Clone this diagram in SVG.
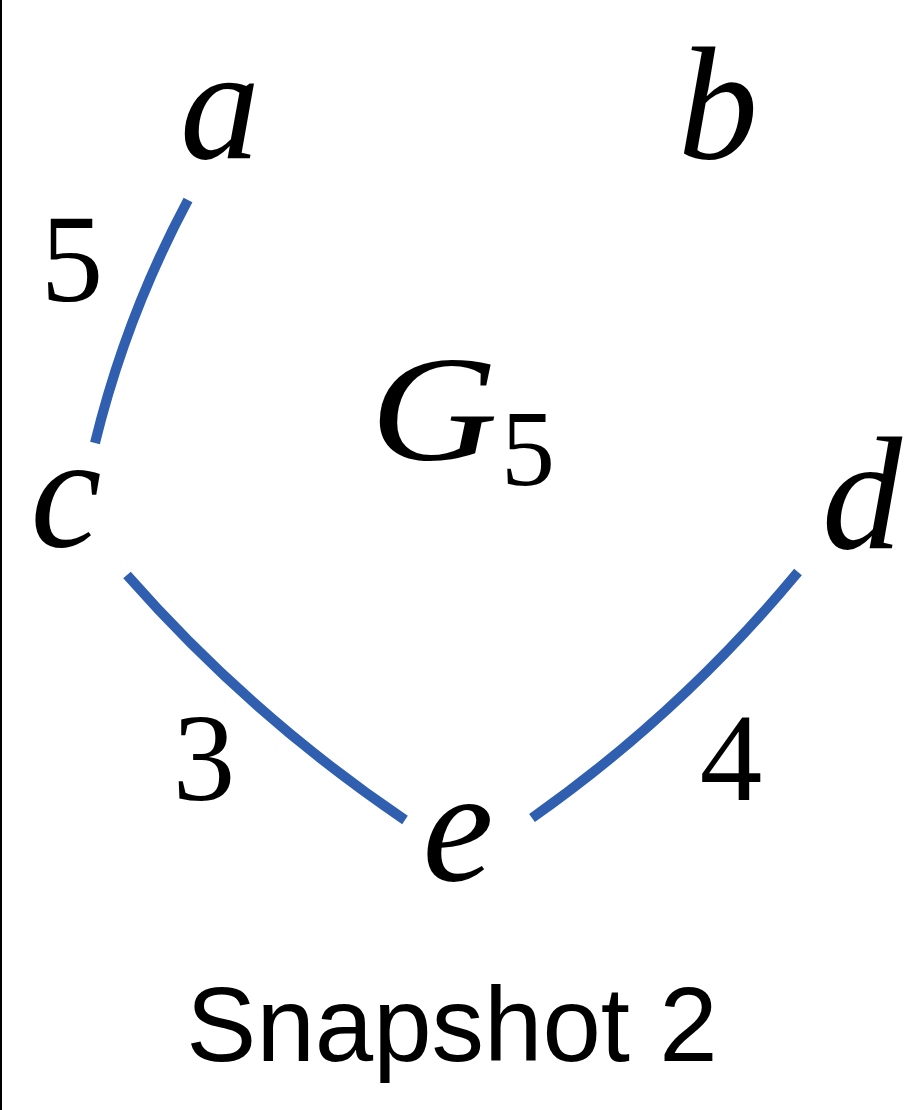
<svg xmlns="http://www.w3.org/2000/svg" width="915" height="1110" viewBox="0 0 915 1110">
<style>
.lbl{font-family:"Liberation Serif",serif;font-style:italic;font-size:160px;fill:#000;text-anchor:middle}
.num{font-family:"Liberation Serif",serif;font-size:125px;fill:#000;text-anchor:middle}
.edge{fill:none;stroke:#2f5fae;stroke-width:10}
.cap{font-family:"Liberation Sans",Arial,sans-serif;font-size:105px;fill:#000;text-anchor:middle}
</style>
<rect x="0" y="0" width="915" height="1110" fill="#fff"/>
<line x1="1" y1="0" x2="1" y2="1110" stroke="#000" stroke-width="2"/>
<g id="edges">
<path class="edge" d="M188,200 Q126,316 95,443"/>
<path class="edge" d="M127,575 Q250,715 405,820"/>
<path class="edge" d="M532,818 Q681,713 798,572"/>
</g>
<g id="edge-labels">
<text class="num" x="72" y="301">5</text>
<text class="num" x="204" y="800">3</text>
<text class="num" x="731" y="800">4</text>
</g>
<g id="node-a"><text class="lbl" x="220" y="158">a</text></g>
<g id="node-b"><text class="lbl" x="718" y="158">b</text></g>
<g id="node-c"><text class="lbl" x="66" y="546">c</text></g>
<g id="node-d"><text class="lbl" x="862" y="548">d</text></g>
<g id="node-e"><text class="lbl" x="458" y="880">e</text></g>
<g id="title"><text font-family="Liberation Serif,serif" font-style="italic" font-size="150" x="370" y="460" textLength="128" lengthAdjust="spacingAndGlyphs">G</text><text font-family="Liberation Serif,serif" font-size="108" x="528" y="485" text-anchor="middle">5</text></g>
<text class="cap" x="452" y="1061">Snapshot 2</text>
</svg>
